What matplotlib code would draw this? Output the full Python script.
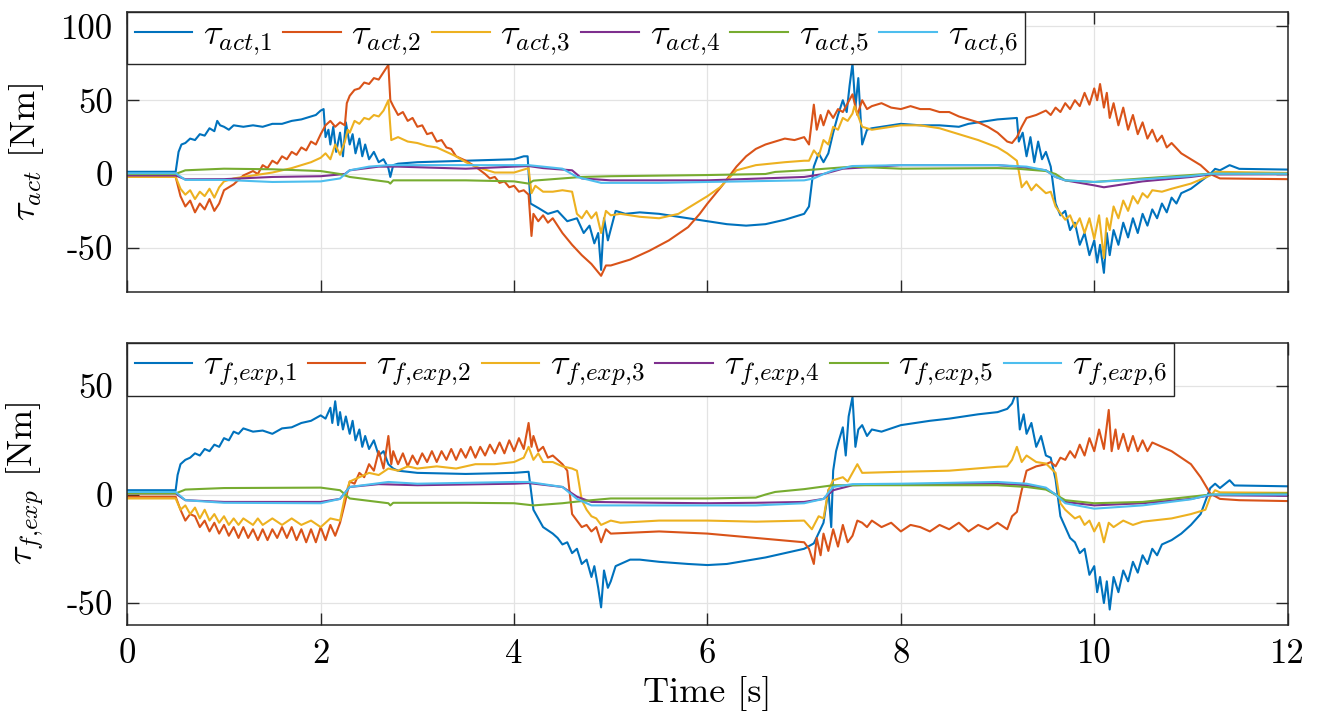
import numpy as np
import matplotlib
matplotlib.use("Agg")
import matplotlib.pyplot as plt

plt.rcParams['font.family'] = ['cmr10', 'DejaVu Serif']
plt.rcParams['mathtext.fontset'] = 'cm'
plt.rcParams['axes.unicode_minus'] = False
plt.rcParams['axes.formatter.use_mathtext'] = False

colors = ['#0072BD', '#D95319', '#EDB120', '#7E2F8E', '#77AC30', '#4DBEEE']

act1 = [(0,1.5),(0.5,1.5),(0.53,15),(0.56,20),(0.6,21),(0.65,24),(0.7,23),(0.75,27),(0.8,26),(0.85,31),(0.9,29),(0.93,36),(0.96,33),(1.0,32),(1.05,30),(1.1,33),(1.2,32),(1.3,33),(1.4,32),(1.5,34),(1.6,34),(1.7,36),(1.8,37),(1.9,39),(1.95,40),(2.0,43),(2.03,44),(2.05,25),(2.08,30),(2.1,20),(2.13,32),(2.16,15),(2.2,28),(2.23,12),(2.26,35),(2.3,20),(2.33,27),(2.36,14),(2.4,24),(2.43,12),(2.46,20),(2.5,10),(2.55,15),(2.6,8),(2.65,10),(2.7,4),(2.72,-2),(2.75,6),(2.8,7),(3.0,8),(3.5,9),(4.0,10),(4.1,12),(4.14,12),(4.17,-20),(4.25,-23),(4.35,-27),(4.45,-25),(4.55,-32),(4.65,-30),(4.72,-40),(4.78,-35),(4.83,-47),(4.87,-40),(4.9,-65),(4.93,-30),(4.97,-45),(5.05,-25),(5.15,-27),(5.3,-26),(5.5,-27),(5.7,-29),(5.9,-31),(6.0,-32),(6.2,-34),(6.4,-35),(6.6,-34),(6.8,-31),(7.0,-27),(7.05,-22),(7.1,5),(7.15,14),(7.2,8),(7.25,14),(7.3,28),(7.35,40),(7.4,50),(7.44,42),(7.47,60),(7.5,75),(7.53,45),(7.56,65),(7.6,20),(7.65,30),(7.7,31),(7.8,32),(8.0,34),(8.2,33),(8.4,33),(8.6,32),(8.7,34),(8.8,35),(9.0,37),(9.2,38),(9.22,22),(9.26,28),(9.3,12),(9.34,25),(9.38,8),(9.42,22),(9.46,10),(9.5,15),(9.55,5),(9.6,-20),(9.65,-28),(9.7,-25),(9.75,-38),(9.8,-33),(9.85,-48),(9.9,-40),(9.95,-55),(10.0,-45),(10.03,-60),(10.06,-48),(10.1,-67),(10.13,-40),(10.16,-55),(10.2,-38),(10.25,-48),(10.3,-33),(10.35,-43),(10.4,-30),(10.45,-40),(10.5,-27),(10.55,-35),(10.6,-24),(10.65,-30),(10.7,-20),(10.75,-26),(10.8,-16),(10.85,-20),(10.9,-13),(11.0,-10),(11.1,-5),(11.2,0),(11.25,3.5),(11.3,2.5),(11.4,6),(11.5,3.5),(12.0,3)]
act2 = [(0,-2),(0.5,-2),(0.55,-15),(0.6,-22),(0.65,-18),(0.7,-26),(0.75,-20),(0.8,-24),(0.85,-17),(0.9,-25),(0.95,-20),(1.0,-11),(1.1,-7),(1.2,-1),(1.3,2),(1.35,0),(1.4,6),(1.45,4),(1.5,9),(1.55,7),(1.6,12),(1.65,10),(1.7,15),(1.75,13),(1.8,18),(1.85,16),(1.9,22),(1.95,20),(2.0,27),(2.05,33),(2.1,36),(2.15,32),(2.2,35),(2.25,33),(2.27,48),(2.3,53),(2.35,57),(2.4,58),(2.45,62),(2.5,61),(2.55,65),(2.6,64),(2.65,69),(2.7,74),(2.72,50),(2.75,46),(2.8,40),(2.85,42),(2.9,36),(2.95,38),(3.0,32),(3.05,33),(3.1,27),(3.15,28),(3.2,22),(3.25,23),(3.3,18),(3.35,17),(3.4,12),(3.5,9),(3.6,5),(3.7,0),(3.75,-3),(3.8,-2),(3.85,-6),(3.9,-5),(3.95,-9),(4.0,-8),(4.05,-12),(4.1,-11),(4.15,-14),(4.18,-42),(4.2,-27),(4.25,-32),(4.3,-28),(4.35,-33),(4.4,-30),(4.5,-40),(4.6,-48),(4.7,-55),(4.8,-61),(4.9,-69),(4.95,-62),(5.0,-62),(5.2,-58),(5.4,-52),(5.6,-45),(5.8,-36),(5.92,-27),(6.0,-20),(6.15,-8),(6.3,5),(6.4,12),(6.5,17),(6.6,20),(6.7,22),(6.8,24),(6.9,23),(7.0,25),(7.05,20),(7.1,47),(7.13,30),(7.17,40),(7.2,33),(7.25,43),(7.3,38),(7.35,44),(7.4,42),(7.45,48),(7.5,54),(7.55,40),(7.6,50),(7.65,44),(7.7,46),(7.8,48),(7.9,45),(8.0,44),(8.1,46),(8.2,44),(8.3,44),(8.4,42),(8.5,42),(8.6,39),(8.7,37),(8.8,35),(8.9,32),(9.0,28),(9.1,22),(9.15,21),(9.2,25),(9.25,32),(9.3,38),(9.4,40),(9.5,43),(9.55,40),(9.6,45),(9.65,42),(9.7,48),(9.75,44),(9.8,50),(9.85,46),(9.9,55),(9.95,47),(10.0,58),(10.03,50),(10.06,61),(10.1,45),(10.13,55),(10.16,38),(10.2,48),(10.25,33),(10.3,45),(10.35,30),(10.4,40),(10.45,27),(10.5,35),(10.55,24),(10.6,30),(10.65,22),(10.7,26),(10.75,18),(10.8,21),(10.9,14),(11.0,10),(11.1,6),(11.2,0),(11.3,-3),(12.0,-3.5)]
act3 = [(0,-2),(0.5,-2),(0.55,-10),(0.6,-14),(0.65,-11),(0.7,-17),(0.75,-12),(0.8,-15),(0.85,-10),(0.9,-16),(0.95,-9),(1.0,-5),(1.1,-3),(1.3,-1),(1.5,1),(1.7,4),(1.8,6),(1.9,8),(2.0,11),(2.05,14),(2.1,10),(2.15,20),(2.2,13),(2.25,22),(2.28,30),(2.3,28),(2.35,36),(2.4,34),(2.45,38),(2.5,37),(2.55,40),(2.6,39),(2.65,43),(2.7,50),(2.73,23),(2.8,25),(2.9,22),(3.0,21),(3.1,19),(3.2,18),(3.3,15),(3.4,12),(3.5,8),(3.6,5),(3.7,3),(3.8,1),(4.0,1),(4.15,4),(4.18,-13),(4.22,-8),(4.3,-12),(4.4,-12),(4.5,-11),(4.6,-12),(4.65,-27),(4.7,-30),(4.75,-25),(4.8,-30),(4.85,-26),(4.9,-40),(4.95,-25),(5.0,-28),(5.1,-27),(5.3,-29),(5.5,-30),(5.7,-27),(5.9,-19),(6.0,-15),(6.13,-9),(6.3,2.5),(6.5,6),(6.8,8),(7.0,9),(7.05,9),(7.1,16),(7.15,12),(7.2,23),(7.25,20),(7.3,32),(7.35,30),(7.4,38),(7.45,36),(7.5,41),(7.52,46),(7.6,32),(7.7,30),(7.8,31),(8.0,33),(8.2,33),(8.4,31),(8.6,27),(8.8,23),(9.0,18),(9.1,14),(9.2,9),(9.25,-9),(9.3,-5),(9.35,-11),(9.4,-7),(9.5,-13),(9.55,-12),(9.6,-22),(9.7,-31),(9.75,-28),(9.8,-36),(9.85,-30),(9.9,-40),(9.95,-30),(10.0,-44),(10.05,-28),(10.1,-57),(10.13,-30),(10.16,-38),(10.2,-22),(10.25,-30),(10.3,-18),(10.35,-25),(10.4,-15),(10.45,-20),(10.5,-13),(10.55,-16),(10.6,-11),(10.7,-12),(10.8,-10),(11.0,-6.5),(11.2,-1),(11.25,1.5),(12.0,0.7)]
act4 = [(0,-1),(0.5,-1),(0.6,-3.6),(1.0,-3.5),(1.5,-2),(2.0,-1.5),(2.25,0),(2.3,2.5),(2.6,5),(2.8,5),(3.5,3.6),(4.0,5),(4.15,5.4),(4.3,4),(4.6,2.5),(4.7,-3),(5.0,-4.3),(6.0,-4.3),(7.0,-2),(7.2,0),(7.4,3.6),(8.0,6),(9.0,6),(9.2,5),(9.5,2.5),(9.6,-2),(9.7,-4.3),(10.0,-7.7),(10.1,-9),(10.5,-5),(11.0,-2),(11.2,-0.3),(12.0,-0.2)]
act5 = [(0,0),(0.5,0),(0.6,2.5),(1.0,3.6),(1.5,3.2),(2.0,2),(2.2,0),(2.3,-2),(2.7,-5.4),(2.72,-6.5),(2.75,-4.3),(3.5,-4.3),(4.0,-5),(4.15,-6.5),(4.2,-4.5),(4.7,-2),(5.0,-1.5),(6.0,-0.7),(6.6,0),(6.7,1.4),(7.0,2.5),(7.3,4),(7.5,5),(8.0,3.6),(9.0,4),(9.2,3.6),(9.5,2),(9.6,0),(9.7,-4.3),(10.0,-5.4),(10.5,-3),(11.0,-0.7),(11.2,0.2),(12.0,0.2)]
act6 = [(0,0.5),(0.5,0.5),(0.6,-4),(1.0,-4),(1.5,-5.4),(2.0,-5),(2.2,-3),(2.3,2.5),(2.5,5),(2.7,6),(3.0,6),(4.0,6),(4.15,6),(4.5,3.6),(4.65,-2),(4.9,-6),(5.5,-6),(6.0,-5.4),(7.0,-4.3),(7.1,-3),(7.2,0),(7.3,2.5),(7.5,5.4),(8.0,6),(9.0,6),(9.3,5),(9.5,2.5),(9.6,-2),(9.7,-4.3),(10.0,-5.4),(10.5,-3.6),(11.0,-1.4),(11.2,0.2),(12.0,0.2)]

# friction torques from experiment
fexp1 = [(0,2),(0.5,2),(0.52,9),(0.55,14),(0.6,16),(0.65,17),(0.7,19),(0.75,18),(0.8,21),(0.85,20),(0.9,23),(0.95,22),(1.0,26),(1.05,25),(1.1,29),(1.15,28),(1.2,30.5),(1.3,29),(1.4,29.5),(1.5,28),(1.6,30.5),(1.7,31),(1.8,33),(1.9,34),(2.0,36.5),(2.05,35),(2.1,40),(2.12,33),(2.15,43),(2.18,32),(2.2,38),(2.23,30),(2.26,36),(2.3,28),(2.33,34),(2.36,25),(2.4,30),(2.43,22),(2.46,27),(2.5,21),(2.55,25),(2.6,18),(2.65,20),(2.7,14),(2.75,12),(2.8,11),(3.0,10),(3.5,9.5),(4.0,10),(4.15,10.5),(4.2,-7),(4.3,-15),(4.4,-18),(4.45,-20),(4.5,-23),(4.55,-22),(4.6,-27),(4.65,-25),(4.7,-32),(4.75,-30),(4.8,-38),(4.83,-33),(4.87,-43),(4.9,-52),(4.93,-35),(4.97,-43),(5.0,-40),(5.05,-33),(5.1,-32),(5.2,-30),(5.3,-30),(5.5,-31),(5.8,-32),(6.0,-32.5),(6.2,-32),(6.6,-29),(7.0,-25),(7.1,-22.5),(7.2,-13),(7.25,2),(7.28,-15),(7.3,11),(7.33,20),(7.36,25),(7.4,31),(7.43,18),(7.46,36),(7.5,45),(7.53,22),(7.56,30),(7.6,32),(7.65,27),(7.7,30),(7.8,29),(8.0,32),(8.3,34),(8.5,35),(8.8,37),(9.0,38),(9.1,39.5),(9.15,42),(9.2,48),(9.23,30),(9.27,37),(9.3,28),(9.35,33),(9.4,22),(9.45,27),(9.5,18),(9.55,17),(9.6,7),(9.65,-10),(9.7,-15),(9.75,-20),(9.8,-22),(9.85,-27),(9.9,-25),(9.95,-37),(10.0,-33),(10.03,-45),(10.06,-38),(10.1,-50),(10.13,-40),(10.16,-53),(10.2,-38),(10.25,-45),(10.3,-35),(10.35,-40),(10.4,-31),(10.45,-36),(10.5,-28),(10.55,-32),(10.6,-25),(10.65,-28),(10.7,-23),(10.8,-21),(10.9,-18),(11.0,-14),(11.1,-9),(11.2,3),(11.25,5),(11.3,3),(11.4,6.6),(11.45,4.2),(12.0,3.8)]
fexp2 = [(0,-1),(0.5,-1),(0.55,-7),(0.6,-12),(0.65,-9),(0.7,-10),(0.75,-15),(0.8,-12),(0.85,-17),(0.9,-13),(0.95,-18),(1.0,-14),(1.05,-19),(1.1,-15),(1.15,-20),(1.2,-15),(1.25,-20),(1.3,-16),(1.35,-21),(1.4,-16),(1.45,-21),(1.5,-16),(1.55,-20),(1.6,-15),(1.65,-20),(1.7,-15),(1.75,-21),(1.8,-16),(1.85,-22),(1.9,-16),(1.95,-22),(2.0,-15),(2.05,-21),(2.1,-14),(2.15,-19),(2.2,-13),(2.25,-4),(2.3,6),(2.35,5),(2.4,10),(2.45,8),(2.5,14),(2.55,11),(2.6,20),(2.65,12),(2.7,27),(2.73,14),(2.75,20),(2.8,14),(2.85,19),(2.9,13),(2.95,18),(3.0,14),(3.05,19),(3.1,15),(3.15,20),(3.2,15),(3.25,20),(3.3,16),(3.35,21),(3.4,16),(3.45,21),(3.5,17),(3.55,22),(3.6,17),(3.65,22),(3.7,18),(3.75,23),(3.8,19),(3.85,24),(3.9,19),(3.95,25),(4.0,20),(4.05,26),(4.1,21),(4.15,33),(4.18,22),(4.2,27),(4.25,20),(4.3,22),(4.35,17),(4.4,18),(4.5,14),(4.55,11),(4.6,-9),(4.65,-12),(4.7,-15),(4.75,-14),(4.8,-17),(4.85,-15),(4.9,-22),(4.95,-16),(5.0,-18),(5.5,-17),(6.0,-18),(6.5,-20),(7.0,-22),(7.05,-25),(7.1,-32),(7.13,-20),(7.17,-28),(7.2,-18),(7.25,-26),(7.3,-16),(7.35,-24),(7.4,-14),(7.45,-22),(7.5,-19),(7.55,-12),(7.6,-13),(7.65,-15),(7.7,-12),(7.8,-15),(7.9,-13),(8.0,-17),(8.1,-14),(8.2,-15),(8.3,-17),(8.4,-14),(8.5,-16),(8.6,-13),(8.7,-17),(8.8,-14),(8.9,-16),(9.0,-13),(9.1,-16),(9.15,-10),(9.2,-8),(9.25,2),(9.3,11),(9.4,13),(9.5,14),(9.55,15),(9.6,13),(9.65,17),(9.7,16),(9.75,20),(9.8,17),(9.85,23),(9.9,18),(9.95,26),(10.0,20),(10.05,30),(10.1,21),(10.15,39),(10.18,20),(10.22,30),(10.25,21),(10.3,28),(10.35,20),(10.4,27),(10.45,20),(10.5,25),(10.55,20),(10.6,24),(10.7,22),(10.8,20),(10.9,17),(11.0,14),(11.1,8),(11.2,0.5),(11.3,-2),(11.5,-2.6),(12.0,-3)]
fexp3 = [(0,-1.8),(0.5,-1.8),(0.55,-7),(0.6,-5),(0.65,-9),(0.7,-6),(0.75,-11),(0.8,-7),(0.85,-12),(0.9,-9),(0.95,-13),(1.0,-10),(1.05,-14),(1.1,-11),(1.15,-14),(1.2,-11),(1.3,-14),(1.35,-11),(1.4,-14),(1.5,-11),(1.6,-14),(1.7,-11),(1.8,-14),(1.9,-12),(2.0,-15),(2.1,-11),(2.2,-12),(2.25,-1),(2.3,6),(2.4,8),(2.5,10),(2.6,9),(2.7,12),(2.8,11),(2.9,13),(3.0,12),(3.2,13),(3.4,12),(3.6,14),(3.8,14),(4.0,15),(4.1,17),(4.15,22),(4.2,16),(4.25,19),(4.3,15),(4.4,15),(4.5,13),(4.6,12),(4.65,11),(4.7,-2.6),(4.75,-7),(4.8,-10),(4.85,-11),(4.9,-14),(5.0,-12),(5.1,-13),(5.5,-12),(6.0,-12),(6.5,-12.5),(7.0,-12),(7.08,-16),(7.15,-10),(7.2,-11),(7.25,2),(7.3,6.6),(7.4,8),(7.45,6),(7.5,10),(7.55,14),(7.6,10),(8.0,10.5),(8.5,11),(9.0,12.8),(9.1,13),(9.15,16),(9.2,22),(9.25,15),(9.3,18),(9.4,15),(9.5,14.3),(9.6,10),(9.65,-4),(9.7,-7),(9.75,-9),(9.8,-11),(9.85,-10),(9.9,-14),(9.95,-12),(10.0,-17),(10.05,-13),(10.1,-22),(10.15,-13),(10.2,-15),(10.3,-12),(10.4,-14),(10.5,-12.5),(10.6,-12),(10.8,-11),(11.0,-9),(11.15,-7),(11.2,-1),(11.25,2),(11.3,1),(12.0,0.8)]
fexp4 = [(0,0.5),(0.5,0.5),(0.6,-2.6),(1.0,-3.4),(2.0,-3.4),(2.2,-2),(2.3,3.5),(2.6,4.8),(3.0,4.3),(4.0,5),(4.15,5.3),(4.5,3.5),(4.65,-1),(4.8,-3.4),(5.5,-3.8),(6.0,-4),(6.5,-3.8),(7.0,-3.4),(7.2,-2),(7.3,2),(7.5,4.3),(8.0,4.8),(9.0,5),(9.3,4.3),(9.5,2.8),(9.6,0),(9.7,-3.4),(10.0,-5),(10.5,-4),(11.0,-2),(11.2,-0.3),(12.0,-0.6)]
fexp5 = [(0,0.5),(0.5,0.5),(0.6,2.3),(1.0,3),(2.0,3.2),(2.2,2),(2.3,-1.8),(2.7,-4),(2.72,-5),(2.75,-3.8),(3.5,-3.8),(4.0,-4),(4.2,-5),(4.5,-4),(4.7,-3),(5.0,-1.8),(6.0,-1.8),(6.5,-1.4),(6.6,0),(6.7,1.2),(7.0,2.5),(7.3,4.3),(8.0,4.3),(9.0,4.3),(9.3,3.5),(9.5,2.3),(9.6,0),(9.7,-2.6),(10.0,-4),(10.5,-3.4),(11.0,-1),(11.2,0),(12.0,0.5)]
fexp6 = [(0,1.2),(0.5,1.2),(0.6,-2.6),(1.0,-3.8),(2.0,-4),(2.2,-2),(2.3,3.5),(2.7,5.8),(3.0,5),(4.0,5.8),(4.15,5.8),(4.5,3.5),(4.65,-2),(4.8,-5),(6.0,-5),(6.5,-5),(7.0,-4),(7.2,-2),(7.3,3.5),(7.5,4.8),(8.0,5),(9.0,5.8),(9.3,5),(9.5,3.2),(9.6,0),(9.7,-4),(10.0,-6.5),(10.5,-5),(11.0,-2.2),(11.2,0),(12.0,0)]

act_series = [act1, act2, act3, act4, act5, act6]
fexp_series = [fexp1, fexp2, fexp3, fexp4, fexp5, fexp6]
act_labels = [r'$\tau_{act{,}%d}$' % i for i in range(1, 7)]
fexp_labels = [r'$\tau_{f{,}exp{,}%d}$' % i for i in range(1, 7)]

fs = 25
fig = plt.figure(figsize=(13.22, 7.27), dpi=100)
ax1 = fig.add_axes([0.0963, 0.5983, 0.8777, 0.3856])
ax2 = fig.add_axes([0.0963, 0.1407, 0.8777, 0.3879])


def style(ax, ylim, yticks):
    ax.set_xlim(0, 12)
    ax.set_ylim(*ylim)
    ax.set_xticks(np.arange(0, 13, 2))
    ax.set_yticks(yticks)
    ax.grid(True, color='#e3e3e3', lw=0.9)
    ax.set_axisbelow(True)
    ax.tick_params(direction='in', length=8.5, width=1.0, top=True, right=True,
                   labelsize=fs, pad=10, colors='#262626', labelcolor='black')
    for s in ax.spines.values():
        s.set_color('#262626')
        s.set_linewidth(1.1)


for ax, series, labels in [(ax1, act_series, act_labels), (ax2, fexp_series, fexp_labels)]:
    for data, c, lab in zip(series, colors, labels):
        d = np.array(data)
        ax.plot(d[:, 0], d[:, 1], color=c, lw=1.5, label=lab)
    leg = ax.legend(loc='upper left', ncol=6, fontsize=fs + 1, borderaxespad=0,
                    handlelength=1.6, handletextpad=0.3, columnspacing=0.3,
                    fancybox=False, framealpha=1, edgecolor='#262626',
                    borderpad=0.2)
    leg.get_frame().set_linewidth(1.0)

style(ax1, (-80, 110), [-50, 0, 50, 100])
style(ax2, (-60, 70), [-50, 0, 50])
ax1.tick_params(labelbottom=False)

ax1.set_ylabel(r'$\tau_{act}$ [Nm]', fontsize=fs + 1)
ax2.set_ylabel(r'$\tau_{f{,}exp}$ [Nm]', fontsize=fs + 1)
ax2.set_xlabel('Time [s]', fontsize=fs + 1, labelpad=4)
ax1.yaxis.set_label_coords(-0.07, 0.5)
ax2.yaxis.set_label_coords(-0.07, 0.5)

fig.savefig('out.png', dpi=100)
